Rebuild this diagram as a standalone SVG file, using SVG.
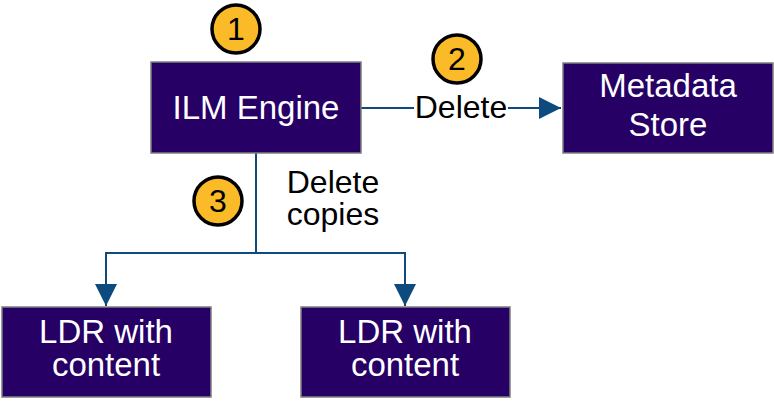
<svg xmlns="http://www.w3.org/2000/svg" width="774" height="401" viewBox="0 0 774 401">
<defs>
<style>
.box{fill:#270066;stroke:#7f7f7f;stroke-width:1.5}
.bt{fill:#ffffff;font-family:"Liberation Sans",Arial,sans-serif;font-size:33px;text-anchor:middle}
.lt{fill:#000000;font-family:"Liberation Sans",Arial,sans-serif;font-size:32px;text-anchor:middle}
.badge{fill:#fbbb28;stroke:#000000;stroke-width:3.5}
.num{fill:#000000;font-family:"Liberation Sans",Arial,sans-serif;font-size:32px;text-anchor:middle}
.conn{fill:none;stroke:#0d4a7e;stroke-width:2}
</style>
<marker id="ahb" viewBox="0 0 22 22" refX="22" refY="11" markerWidth="22" markerHeight="22" markerUnits="userSpaceOnUse" orient="auto">
<path d="M0,0 L22,11 L0,22 z" fill="#0d4a7e"/>
</marker>
</defs>
<g id="connectors">
<line class="conn" x1="361" y1="108" x2="414" y2="108"/>
<line class="conn" x1="508" y1="108" x2="561" y2="108" marker-end="url(#ahb)"/>
<line class="conn" x1="256" y1="153" x2="256" y2="253"/>
<path class="conn" d="M256,253 H106 V306" marker-end="url(#ahb)"/>
<path class="conn" d="M256,253 H405 V306" marker-end="url(#ahb)"/>
<text class="lt" x="461" y="118">Delete</text>
<text class="lt" x="333" y="193">Delete</text>
<text class="lt" x="333" y="225">copies</text>
</g>
<g id="ilm">
<rect class="box" x="151" y="62" width="210" height="91"/>
<text class="bt" x="256" y="119">ILM Engine</text>
</g>
<g id="metadata">
<rect class="box" x="563" y="63" width="210" height="90"/>
<text class="bt" x="668" y="97">Metadata</text>
<text class="bt" x="668" y="136">Store</text>
</g>
<g id="ldr1">
<rect class="box" x="2" y="307" width="209" height="90"/>
<text class="bt" x="106" y="343">LDR with</text>
<text class="bt" x="106" y="376">content</text>
</g>
<g id="ldr2">
<rect class="box" x="301" y="307" width="209" height="90"/>
<text class="bt" x="405" y="343">LDR with</text>
<text class="bt" x="405" y="376">content</text>
</g>
<g id="badge1">
<circle class="badge" cx="236" cy="29" r="24"/>
<text class="num" x="236" y="40">1</text>
</g>
<g id="badge2">
<circle class="badge" cx="457" cy="59" r="24"/>
<text class="num" x="457" y="70">2</text>
</g>
<g id="badge3">
<circle class="badge" cx="218" cy="201" r="24"/>
<text class="num" x="218" y="212">3</text>
</g>
</svg>
